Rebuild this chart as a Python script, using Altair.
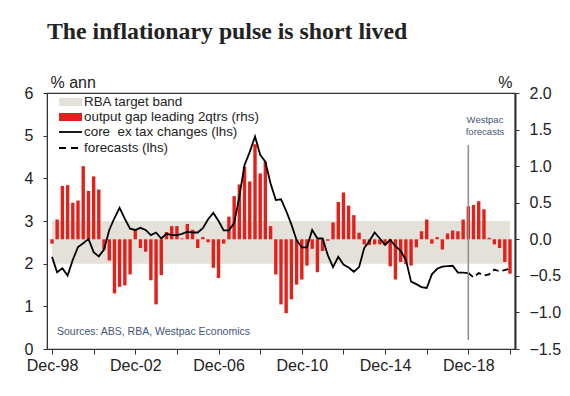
import altair as alt
import pandas as pd

# Quarterly dates, Dec-98 .. Dec-20
dates = [d.strftime("%Y-%m-%d") for d in pd.date_range("1998-12-01", "2020-12-01", freq="3MS")]

# Output gap leading 2 qtrs (rhs, %)
output_gap = [
    -0.06, 0.27, 0.73, 0.74, 0.50, 0.53, 1.00, 0.66, 0.86, 0.68,
    -0.14, -0.29, -0.74, -0.65, -0.63, -0.48, 0.13, -0.12, -0.17, -0.56,
    -0.89, -0.49, 0.10, 0.18, 0.18, 0.01, 0.21, 0.13, -0.12, 0.03,
    -0.04, -0.39, -0.53, -0.06, 0.31, 0.59, 0.75, 0.99, 0.79, 1.30,
    0.90, 1.06, 0.18, -0.48, -0.89, -1.01, -0.82, -0.62, -0.55, -0.36,
    -0.13, -0.45, -0.16, -0.02, 0.23, 0.51, 0.64, 0.46, 0.33, 0.09,
    -0.07, -0.08, -0.07, -0.07, -0.08, -0.37, -0.55, -0.31, -0.34, -0.36,
    -0.11, 0.11, 0.27, -0.06, 0.03, -0.14, 0.08, 0.12, 0.11, 0.27,
    0.45, 0.47, 0.52, 0.41, 0.02, -0.07, -0.12, -0.31, -0.47,
]

# Core inflation ex tax changes (lhs, % ann), Dec-98 .. Dec-18
core = [
    2.16, 1.80, 1.89, 1.72, 2.09, 2.39, 2.48, 2.58, 2.27, 2.17,
    2.33, 2.79, 3.07, 3.31, 3.05, 2.82, 2.79, 2.84, 2.79, 2.67,
    2.73, 2.59, 2.70, 2.67, 2.67, 2.70, 2.75, 2.73, 2.73, 2.83,
    3.04, 3.19, 3.00, 2.78, 2.78, 2.95, 3.57, 4.31, 4.62, 4.98,
    4.55, 4.39, 3.88, 3.49, 3.51, 3.24, 2.92, 2.55, 2.38, 2.38,
    2.79, 2.59, 2.59, 2.20, 1.92, 2.16, 1.98, 1.91, 1.81, 1.92,
    2.37, 2.53, 2.73, 2.59, 2.44, 2.56, 2.41, 2.30, 2.09, 1.58,
    1.52, 1.45, 1.43, 1.75, 1.88, 1.93, 1.94, 1.95, 1.79, 1.79,
    1.78,
]

# Westpac forecasts (lhs), Dec-18 .. Dec-20
forecast = [1.78, 1.68, 1.78, 1.72, 1.75, 1.86, 1.82, 1.85, 1.88]

band_low = [2.0]
band_high = [3.0]

RED = "#E1211B"
BAND = "#E4E1DB"
TXT = "#222222"
NOTE = "#44557A"
FONT = "Liberation Sans"

bars_df = pd.DataFrame({"date": dates, "gap": output_gap})
core_df = pd.DataFrame({"date": dates[:len(core)], "core": core})
fc_df = pd.DataFrame({"date": dates[len(core) - 1:], "fc": forecast})
band_df = pd.DataFrame({"lo": band_low, "hi": band_high})


def dt(y, m=12):
    return alt.DateTime(year=y, month=m, date=1, utc=True)


xscale = alt.Scale(type="utc", domain=[dt(1998), dt(2020)])
xaxis = alt.Axis(
    values=[dt(y) for y in range(1998, 2021)],
    labelExpr="utcyear(datum.value) % 4 == 2 ? 'Dec-' + utcFormat(datum.value, '%y') : ''",
    title=None, grid=False, tickSize=5, labelPadding=3, labelFlush=False,
    labelOverlap=False, labelFontSize=16, labelFont=FONT, labelColor=TXT,
    domainColor="#333", tickColor="#333",
)
lhs = alt.Scale(domain=[0, 6], nice=False, zero=False)
rhs = alt.Scale(domain=[-1.5, 2.0], nice=False, zero=False)

band = alt.Chart(band_df).mark_rect(color=BAND).encode(
    x=alt.datum(dt(1998), type="temporal", scale=xscale, axis=xaxis),
    x2=alt.datum(dt(2020)),
    y=alt.Y("lo:Q", scale=lhs, axis=alt.Axis(
        orient="left", values=[0, 1, 2, 3, 4, 5, 6], grid=False, tickSize=4,
        labelPadding=10, labelFontSize=16, labelFont=FONT, labelColor=TXT,
        labelFlush=False, domainColor="#333", tickColor="#333",
        title="% ann", titleAngle=0, titleX=3, titleY=-6, titleAlign="left",
        titleBaseline="alphabetic", titleFontSize=16, titleFontWeight="normal",
        titleFont=FONT, titleColor=TXT)),
    y2="hi:Q",
)

bars = alt.Chart(bars_df).mark_bar(color=RED, size=3.4).encode(
    x=alt.X("date:T", scale=xscale, axis=xaxis),
    y=alt.Y("gap:Q", scale=rhs, axis=alt.Axis(
        orient="right", values=[-1.5, -1.0, -0.5, 0.0, 0.5, 1.0, 1.5, 2.0], format=".1f",
        grid=False, tickSize=4, labelPadding=10, labelFontSize=16, labelFont=FONT,
        labelColor=TXT, labelFlush=False, domainColor="#333", domainWidth=2,
        tickColor="#333", title="%", titleAngle=0, titleX=-3, titleY=-6,
        titleAlign="right", titleBaseline="alphabetic", titleFontSize=16,
        titleFontWeight="normal", titleFont=FONT, titleColor=TXT)),
)

core_line = alt.Chart(core_df).mark_line(color="black", strokeWidth=1.8).encode(
    x=alt.X("date:T", scale=xscale, axis=xaxis),
    y=alt.Y("core:Q", scale=lhs, axis=None),
)

fc_line = alt.Chart(fc_df).mark_line(color="black", strokeWidth=1.8, strokeDash=[6, 4]).encode(
    x=alt.X("date:T", scale=xscale, axis=xaxis),
    y=alt.Y("fc:Q", scale=lhs, axis=None),
)

one = pd.DataFrame({"a": [0]})

vline = alt.Chart(one).mark_rule(color="#8C8C8C", strokeWidth=1.5).encode(
    x=alt.datum(dt(2018), type="temporal"),
    y=alt.value(52), y2=alt.value(247),
)

wp_text = alt.Chart(one).mark_text(
    text="Westpac\nforecasts", lineBreak="\n", fontSize=9.5, lineHeight=12,
    font=FONT, color=NOTE, align="center", baseline="middle",
).encode(x=alt.value(438), y=alt.value(27))

src_text = alt.Chart(one).mark_text(
    text="Sources: ABS, RBA, Westpac Economics", fontSize=10.5, font=FONT,
    color=NOTE, align="left", baseline="middle",
).encode(x=alt.value(10), y=alt.value(239))

# Legend
leg_band = alt.Chart(one).mark_rect(color=BAND).encode(
    x=alt.value(12), x2=alt.value(35), y=alt.value(5), y2=alt.value(13))
leg_red = alt.Chart(one).mark_rect(color=RED).encode(
    x=alt.value(12), x2=alt.value(35), y=alt.value(20), y2=alt.value(28))
leg_line = alt.Chart(one).mark_rule(color="black", strokeWidth=1.8).encode(
    x=alt.value(12), x2=alt.value(35), y=alt.value(39))
leg_dash = alt.Chart(one).mark_rule(color="black", strokeWidth=1.8, strokeDash=[7, 5]).encode(
    x=alt.value(12), x2=alt.value(35), y=alt.value(55))

leg_labels = ["RBA target band", "output gap leading 2qtrs (rhs)",
              "core\u00a0 ex tax changes (lhs)", "forecasts (lhs)"]
leg_y = [9, 24, 39, 55]
leg_texts = [
    alt.Chart(one).mark_text(text=lab, fontSize=13.4, font=FONT, color=TXT,
                             align="left", baseline="middle").encode(
        x=alt.value(37), y=alt.value(yy))
    for lab, yy in zip(leg_labels, leg_y)
]

chart = alt.layer(
    band, bars, core_line, fc_line, vline, wp_text, src_text,
    leg_band, leg_red, leg_line, leg_dash, *leg_texts,
).resolve_scale(y="independent").properties(
    width=468, height=256,
    autosize=alt.AutoSizeParams(type="none"),
    padding={"left": 39, "top": 85, "right": 47, "bottom": 39},
    title=alt.TitleParams(
        text="The inflationary pulse is short lived", anchor="start", frame="group",
        font="Liberation Serif", fontSize=23.8, fontWeight="bold", color="#222",
        offset=30,
    ),
).configure_view(stroke="#333", strokeWidth=1.2)

chart.save("out.html", embed_options={"renderer": "svg", "actions": False})
